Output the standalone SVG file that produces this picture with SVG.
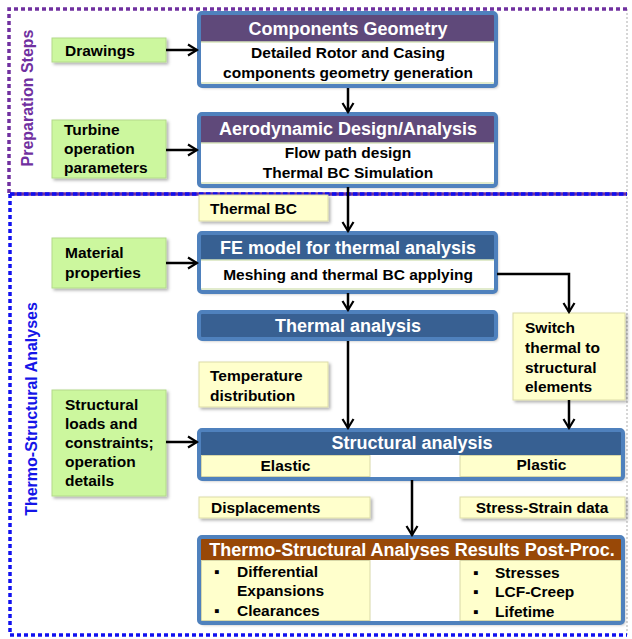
<svg xmlns="http://www.w3.org/2000/svg" width="632" height="639" viewBox="0 0 632 639">
<defs>
<filter id="sh" x="-10%" y="-10%" width="130%" height="140%">
<feDropShadow dx="2" dy="2" stdDeviation="1.5" flood-color="#000" flood-opacity="0.3"/>
</filter>
<marker id="arr" viewBox="0 0 12 14" refX="10" refY="7" markerWidth="12" markerHeight="14" markerUnits="userSpaceOnUse" orient="auto">
<path d="M1,1.5 L10,7 L1,12.5" fill="none" stroke="#000" stroke-width="2.2"/>
</marker>
</defs>
<style>
text{font-family:"Liberation Sans",Arial,sans-serif;font-weight:bold;}
.t{font-size:15.5px;fill:#000;}
.h{font-size:18px;fill:#fff;}
.c{text-anchor:middle;}
.green{fill:#CCF79E;stroke:#B3DA8A;stroke-width:1;filter:url(#sh);}
.yellow{fill:#FFFFCC;stroke:#DCDCA8;stroke-width:1;filter:url(#sh);}
.frame{fill:none;stroke:#4F81BD;stroke-width:4;}
.shbox{filter:url(#sh);}
.body{fill:#fff;}
.cell{fill:#FFFFCC;stroke:#D8D8A8;stroke-width:1;}
.sep{stroke:#D7E4BD;stroke-width:1.5;}
.conn path{fill:none;stroke:#000;stroke-width:2.5;marker-end:url(#arr);}
</style>

<g id="frames">
<path d="M627,9 V193" stroke="#BBBBBB" stroke-width="1.2" stroke-dasharray="2 2" fill="none"/>
<path d="M627,193 V635" stroke="#BBBBBB" stroke-width="1.2" stroke-dasharray="2 2" fill="none"/>
<path d="M9,193 V9 H627" fill="none" stroke="#7030A0" stroke-width="3.5" stroke-dasharray="4 3"/>
<path d="M10,194 H627" fill="none" stroke="#7030A0" stroke-width="3.5"/>
<path d="M10,194 H627" fill="none" stroke="#1010F0" stroke-width="3.5" stroke-dasharray="4.5 2.5"/>
<path d="M10,194 V635 H627" fill="none" stroke="#1010F0" stroke-width="3.5" stroke-dasharray="4 3"/>
<text x="0" y="0" transform="translate(33,98) rotate(-90)" text-anchor="middle" style="font-size:16px;fill:#7030A0;">Preparation Steps</text>
<text x="0" y="0" transform="translate(37,409) rotate(-90)" text-anchor="middle" style="font-size:16px;fill:#1515E8;">Thermo-Structural Analyses</text>
</g>

<g id="drawings">
<rect class="green" x="52" y="38" width="114" height="24"/>
<text class="t" x="65" y="56">Drawings</text>
</g>

<g id="turbine">
<rect class="green" x="52" y="120" width="114" height="58"/>
<text class="t" x="64" y="135">Turbine</text>
<text class="t" x="64" y="154">operation</text>
<text class="t" x="64" y="173">parameters</text>
</g>

<g id="components">
<rect class="shbox" x="199" y="13" width="297" height="73" rx="3" fill="#4F81BD"/>
<rect x="201" y="15" width="293" height="27" fill="#5F497A"/>
<rect class="body" x="201" y="42" width="293" height="42"/>
<line class="sep" x1="201" y1="42" x2="494" y2="42"/>
<line class="sep" x1="201" y1="83" x2="494" y2="83"/>
<rect class="frame" x="199" y="13" width="297" height="73" rx="3"/>
<text class="h c" x="348" y="35">Components Geometry</text>
<text class="t c" x="348" y="58">Detailed Rotor and Casing</text>
<text class="t c" x="348" y="78">components geometry generation</text>
</g>

<g id="aero">
<rect class="shbox" x="199" y="114" width="297" height="72" rx="3" fill="#4F81BD"/>
<rect x="201" y="116" width="293" height="27" fill="#5F497A"/>
<rect class="body" x="201" y="143" width="293" height="41"/>
<line class="sep" x1="201" y1="143" x2="494" y2="143"/>
<line class="sep" x1="201" y1="183" x2="494" y2="183"/>
<rect class="frame" x="199" y="114" width="297" height="72" rx="3"/>
<text class="h c" x="348" y="135">Aerodynamic Design/Analysis</text>
<text class="t c" x="348" y="158">Flow path design</text>
<text class="t c" x="348" y="178">Thermal BC Simulation</text>
</g>

<g id="thermalbc">
<rect class="yellow" x="199" y="195" width="129" height="26"/>
<text class="t" x="210" y="214">Thermal BC</text>
</g>

<g id="material">
<rect class="green" x="52" y="238" width="114" height="50"/>
<text class="t" x="65" y="258">Material</text>
<text class="t" x="65" y="278">properties</text>
</g>

<g id="femodel">
<rect class="shbox" x="199" y="233" width="297" height="59" rx="3" fill="#4F81BD"/>
<rect x="201" y="235" width="293" height="25" fill="#376092"/>
<rect class="body" x="201" y="260" width="293" height="30"/>
<line class="sep" x1="201" y1="260" x2="494" y2="260"/>
<line class="sep" x1="201" y1="289" x2="494" y2="289"/>
<rect class="frame" x="199" y="233" width="297" height="59" rx="3"/>
<text class="h c" x="348" y="254">FE model for thermal analysis</text>
<text class="t c" x="348" y="280">Meshing and thermal BC applying</text>
</g>

<g id="thermal">
<rect class="shbox" x="199" y="312" width="297" height="27" rx="3" fill="#376092"/>
<rect class="frame" x="199" y="312" width="297" height="27" rx="3"/>
<text class="h c" x="348" y="332">Thermal analysis</text>
</g>

<g id="switch">
<rect class="yellow" x="513" y="313" width="112" height="87"/>
<text class="t" x="525" y="333">Switch</text>
<text class="t" x="525" y="353">thermal to</text>
<text class="t" x="525" y="373">structural</text>
<text class="t" x="525" y="392">elements</text>
</g>

<g id="temperature">
<rect class="yellow" x="199" y="362" width="129" height="45"/>
<text class="t" x="210" y="381">Temperature</text>
<text class="t" x="210" y="401">distribution</text>
</g>

<g id="loads">
<rect class="green" x="52" y="390" width="114" height="106"/>
<text class="t" x="65" y="410">Structural</text>
<text class="t" x="65" y="429">loads and</text>
<text class="t" x="65" y="448">constraints;</text>
<text class="t" x="65" y="467">operation</text>
<text class="t" x="65" y="486">details</text>
</g>

<g id="structural">
<rect class="shbox" x="199" y="430" width="424" height="49" rx="3" fill="#4F81BD"/>
<rect x="201" y="432" width="420" height="23" fill="#376092"/>
<rect class="body" x="201" y="455" width="420" height="22"/>
<rect class="cell" x="201.5" y="455.5" width="168.5" height="21"/>
<rect class="cell" x="460" y="455.5" width="161" height="21"/>
<rect class="frame" x="199" y="430" width="424" height="49" rx="3"/>
<text class="h c" x="412" y="449">Structural analysis</text>
<text class="t c" x="285.5" y="471">Elastic</text>
<text class="t c" x="541.5" y="470">Plastic</text>
</g>

<g id="displacements">
<rect class="yellow" x="199" y="497" width="171" height="21"/>
<text class="t" x="211" y="513">Displacements</text>
</g>

<g id="stressstrain">
<rect class="yellow" x="460" y="497" width="165" height="21"/>
<text class="t c" x="542" y="513">Stress-Strain data</text>
</g>

<g id="postproc">
<rect class="shbox" x="199" y="537" width="424" height="86" rx="3" fill="#4F81BD"/>
<rect x="201" y="539" width="420" height="21" fill="#984807"/>
<rect class="body" x="201" y="560" width="420" height="61"/>
<rect class="cell" x="201.5" y="560.5" width="168.5" height="60"/>
<rect class="cell" x="460" y="560.5" width="161" height="60"/>
<rect class="frame" x="199" y="537" width="424" height="86" rx="3"/>
<text class="h c" x="412" y="556">Thermo-Structural Analyses Results Post-Proc.</text>
<text class="t" x="214" y="577">▪</text>
<text class="t" x="237" y="577">Differential</text>
<text class="t" x="237" y="596">Expansions</text>
<text class="t" x="214" y="616">▪</text>
<text class="t" x="237" y="616">Clearances</text>
<text class="t" x="473" y="578">▪</text>
<text class="t" x="495" y="578">Stresses</text>
<text class="t" x="473" y="597">▪</text>
<text class="t" x="495" y="597">LCF-Creep</text>
<text class="t" x="473" y="617">▪</text>
<text class="t" x="495" y="617">Lifetime</text>
</g>

<g id="connectors" class="conn">
<path d="M166,50 H197"/>
<path d="M166,150 H197"/>
<path d="M348,88 V112"/>
<path d="M348,187 V231"/>
<path d="M166,263 H197"/>
<path d="M348,293 V310"/>
<path d="M497,274 H569 V312"/>
<path d="M348,341 V428"/>
<path d="M569,400 V428"/>
<path d="M166,442 H197"/>
<path d="M412,480 V535"/>
</g>
</svg>
